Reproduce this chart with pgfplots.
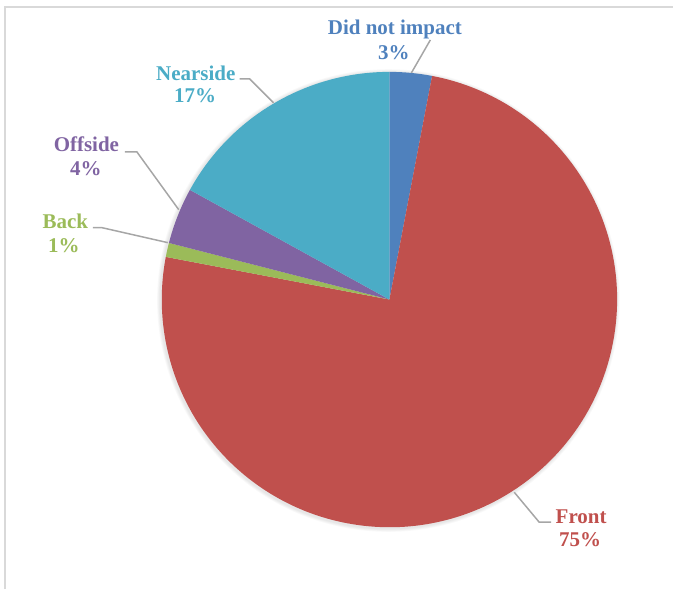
\documentclass[border=0pt]{standalone}
\usepackage{pgfplots}
\pgfplotsset{compat=1.18}
\usepackage{fontspec}
\setmainfont{Liberation Serif}
\definecolor{cDNI}{HTML}{4F81BD}
\definecolor{cFront}{HTML}{C0504D}
\definecolor{cBack}{HTML}{9BBB59}
\definecolor{cOff}{HTML}{8064A2}
\definecolor{cNear}{HTML}{4BACC6}
\definecolor{leader}{HTML}{A6A6A6}
\definecolor{frame}{HTML}{D9D9D9}
\newcommand\lab{\fontsize{12.6}{15}\selectfont\bfseries}
\begin{document}
\begin{tikzpicture}
% pie values (percent), clockwise from 12 o'clock
\gdef\pieslices{}
\gdef\startang{90}
\foreach \v/\c in {3/cDNI,75/cFront,1/cBack,4/cOff,17/cNear}{
  \pgfmathsetmacro\endang{\startang-3.6*\v}
  \xdef\pieslices{\unexpanded\expandafter{\pieslices}\noexpand\fill[\c] (axis cs:390,290) -- ++(\startang:136.8pt) arc[start angle=\startang,end angle=\endang,radius=136.8pt] -- cycle;}
  \xdef\startang{\endang}
}
\begin{axis}[scale only axis, width=404.4pt, height=354pt,
  xmin=0, xmax=674, ymin=0, ymax=590, hide axis, clip=false]
\path (axis cs:0,0) rectangle (axis cs:674,590);
% frame
\draw[frame, line width=1.2pt] (axis cs:5.5,0) -- (axis cs:5.5,583) -- (axis cs:674,583);
% soft shadow
\fill[black, opacity=0.025] (axis cs:389,289) circle[radius=139.0pt];
\fill[black, opacity=0.025] (axis cs:389,289) circle[radius=138.5pt];
\fill[black, opacity=0.025] (axis cs:389,289) circle[radius=138.0pt];
\fill[black, opacity=0.025] (axis cs:389,289) circle[radius=137.5pt];
\pieslices
% leader lines
\draw[leader, line width=0.9pt] (axis cs:412,517) -- (axis cs:431,550);
\draw[leader, line width=0.9pt] (axis cs:240,511) -- (axis cs:250,511) -- (axis cs:274,487);
\draw[leader, line width=0.9pt] (axis cs:125,438) -- (axis cs:137,438) -- (axis cs:179,380);
\draw[leader, line width=0.9pt] (axis cs:93,362) -- (axis cs:102,362) -- (axis cs:168,347);
\draw[leader, line width=0.9pt] (axis cs:515,97) -- (axis cs:540,67) -- (axis cs:552,67);
% labels
\node[cDNI, anchor=base, font=\lab] at (axis cs:395.5,555) {Did not impact};
\node[cDNI, anchor=base, font=\lab] at (axis cs:394.5,530) {3\%};
\node[cNear, anchor=base, font=\lab] at (axis cs:196,509.5) {Nearside};
\node[cNear, anchor=base, font=\lab] at (axis cs:195.5,487) {17\%};
\node[cOff, anchor=base, font=\lab] at (axis cs:86.5,438) {Offside};
\node[cOff, anchor=base, font=\lab] at (axis cs:86,414) {4\%};
\node[cBack, anchor=base, font=\lab] at (axis cs:65.5,361) {Back};
\node[cBack, anchor=base, font=\lab] at (axis cs:64,337) {1\%};
\node[cFront, anchor=base, font=\lab] at (axis cs:582,66) {Front};
\node[cFront, anchor=base, font=\lab] at (axis cs:581,43) {75\%};
\end{axis}
\end{tikzpicture}
\end{document}
